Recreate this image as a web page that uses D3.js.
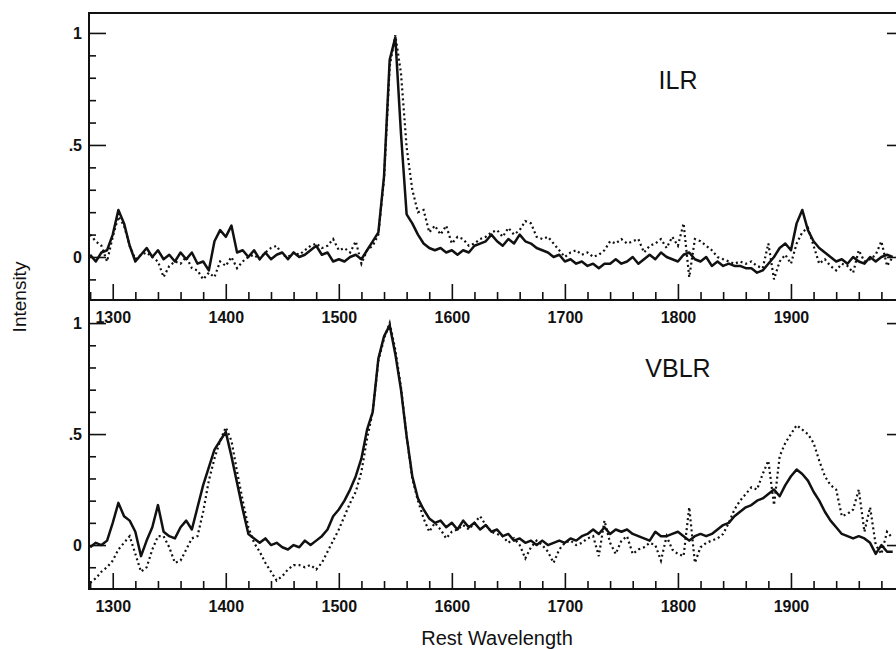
<!DOCTYPE html>
<html>
<head>
<meta charset="utf-8">
<script src="https://cdn.jsdelivr.net/npm/d3@7"></script>
<style>
  body { margin: 0; background: #fff; }
  svg { display: block; }
  text { font-family: "Liberation Sans", Arial, Helvetica, sans-serif; fill: #111; }
</style>
</head>
<body>
<script>
// wavelength grid (Angstrom), one value every 5 A from 1280 to 1990
var wave = d3.range(1280, 1991, 5);

// ILR panel, solid and dotted spectra
var ilrSolid = [
  0.01,-0.02,0.02,0.03,0.10,0.21,0.15,0.05,-0.02,0.01,
  0.04,0.00,0.03,-0.01,0.01,-0.02,0.02,-0.01,0.02,-0.03,
  -0.02,-0.06,0.07,0.12,0.09,0.14,0.02,0.03,0.00,0.03,
  -0.01,0.02,-0.01,0.01,0.02,-0.01,0.02,0.00,0.01,0.03,
  0.05,0.01,0.02,-0.02,-0.01,-0.02,0.00,0.01,-0.01,0.03,
  0.07,0.11,0.36,0.88,0.98,0.55,0.19,0.15,0.10,0.06,
  0.04,0.03,0.04,0.02,0.03,0.01,0.03,0.02,0.05,0.06,
  0.07,0.10,0.07,0.05,0.08,0.06,0.10,0.07,0.06,0.04,
  0.03,0.02,0.00,0.01,-0.02,-0.01,-0.03,-0.02,-0.04,-0.03,
  -0.05,-0.03,-0.03,-0.01,-0.03,-0.02,0.00,-0.03,-0.01,0.01,
  -0.01,0.02,0.00,-0.01,-0.02,0.01,0.02,-0.01,-0.02,0.00,
  -0.04,-0.02,-0.04,-0.03,-0.04,-0.04,-0.05,-0.05,-0.07,-0.06,
  -0.03,0.00,0.04,0.06,0.03,0.15,0.21,0.12,0.07,0.04,
  0.02,0.00,-0.02,-0.01,-0.03,0.00,-0.02,-0.03,0.00,-0.02,
  0.00,0.01,0.00
];
var ilrDotted = [
  0.10,0.07,0.05,-0.02,0.09,0.18,0.14,0.05,-0.01,0.01,
  0.02,0.00,-0.02,-0.09,-0.04,-0.02,-0.03,0.00,-0.05,-0.06,
  -0.10,-0.07,-0.09,-0.02,-0.04,0.00,-0.05,-0.02,0.00,0.01,
  -0.01,0.02,0.04,0.05,0.01,0.00,0.02,0.01,0.03,0.05,
  0.06,0.04,0.05,0.08,0.03,0.04,0.02,0.07,-0.03,0.03,
  0.05,0.10,0.35,0.85,0.99,0.82,0.49,0.30,0.20,0.21,
  0.11,0.14,0.10,0.14,0.06,0.09,0.08,0.05,0.06,0.08,
  0.09,0.11,0.12,0.09,0.13,0.10,0.12,0.16,0.15,0.09,
  0.08,0.09,0.06,0.03,0.00,0.02,0.03,0.01,0.02,0.00,
  0.01,0.03,0.07,0.06,0.08,0.06,0.07,0.08,0.02,0.05,
  0.06,0.08,0.04,0.09,0.05,0.15,-0.09,0.08,0.07,0.05,
  0.03,0.00,-0.01,-0.02,-0.03,-0.02,-0.03,-0.02,-0.04,-0.05,
  0.06,-0.10,-0.02,0.01,-0.03,0.06,0.11,0.13,0.05,-0.03,
  -0.01,-0.04,-0.06,-0.03,-0.04,-0.07,0.03,-0.02,-0.01,0.01,
  0.07,-0.04,0.00
];

// VBLR panel, solid and dotted spectra
var vblrSolid = [
  -0.01,0.01,0.00,0.02,0.10,0.19,0.13,0.11,0.06,-0.05,
  0.02,0.08,0.18,0.06,0.04,0.03,0.08,0.11,0.07,0.17,
  0.27,0.35,0.43,0.47,0.51,0.40,0.28,0.16,0.05,0.03,
  0.01,0.03,0.00,0.01,-0.01,-0.02,0.00,-0.01,0.02,0.00,
  0.02,0.04,0.07,0.13,0.16,0.20,0.25,0.31,0.39,0.52,
  0.60,0.84,0.94,0.99,0.86,0.70,0.49,0.31,0.21,0.16,
  0.12,0.10,0.11,0.08,0.10,0.07,0.11,0.08,0.10,0.07,
  0.09,0.06,0.07,0.04,0.05,0.02,0.03,0.01,0.02,0.00,
  0.02,0.00,0.01,0.02,0.01,0.03,0.02,0.04,0.05,0.07,
  0.05,0.08,0.05,0.07,0.06,0.07,0.05,0.04,0.03,0.02,
  0.06,0.04,0.04,0.05,0.06,0.04,0.02,0.04,0.05,0.04,
  0.05,0.07,0.09,0.10,0.13,0.15,0.17,0.18,0.20,0.21,
  0.23,0.25,0.22,0.27,0.31,0.34,0.32,0.29,0.24,0.20,
  0.15,0.11,0.08,0.05,0.04,0.03,0.04,0.03,0.01,-0.04,
  0.00,-0.03,-0.03
];
var vblrDotted = [
  -0.17,-0.15,-0.12,-0.10,-0.07,-0.02,0.01,0.04,-0.04,-0.12,
  -0.10,-0.02,0.04,0.04,-0.01,-0.08,-0.07,-0.02,0.03,0.04,
  0.15,0.29,0.39,0.47,0.53,0.47,0.33,0.20,0.08,0.01,
  -0.03,-0.08,-0.12,-0.16,-0.14,-0.11,-0.09,-0.09,-0.10,-0.09,
  -0.11,-0.08,-0.03,0.02,0.07,0.13,0.19,0.24,0.33,0.48,
  0.60,0.83,0.93,1.00,0.88,0.71,0.49,0.30,0.20,0.12,
  0.06,0.10,0.07,0.03,0.06,0.07,0.09,0.07,0.10,0.13,
  0.09,0.06,0.05,0.04,0.01,0.03,0.00,-0.06,-0.01,0.02,
  0.00,-0.03,-0.08,-0.02,0.01,0.02,0.00,0.01,0.03,0.04,
  -0.05,0.11,0.01,-0.04,0.02,0.04,-0.04,-0.02,-0.01,0.01,
  0.00,-0.07,0.04,-0.02,-0.04,-0.05,0.17,-0.08,-0.01,0.01,
  0.02,0.03,0.05,0.10,0.16,0.20,0.23,0.26,0.25,0.32,
  0.38,0.18,0.40,0.46,0.50,0.54,0.52,0.50,0.46,0.38,
  0.31,0.27,0.25,0.13,0.14,0.16,0.25,0.06,0.17,0.00,
  -0.04,0.06,0.03
];

var panelNames = ["ILR", "VBLR"];
var xMajor = [1300, 1400, 1500, 1600, 1700, 1800, 1900];
var yMajor = [0, 0.5, 1];
var yLabels = ["0", ".5", "1"];

var W = 896, H = 649;
var left = 89, right = 904;

var svg = d3.select("body").append("svg")
    .attr("width", W)
    .attr("height", H);

var x = d3.scaleLinear().domain([1279, 2000]).range([left, right]);

// two stacked panels
var panels = [
  {name: panelNames[0], top: 13, bottom: 300, y: d3.scaleLinear().domain([-0.192, 1.089]).range([300, 13]),
   solid: ilrSolid, dotted: ilrDotted, labelY: 89},
  {name: panelNames[1], top: 300, bottom: 589, y: d3.scaleLinear().domain([-0.198, 1.104]).range([589, 300]),
   solid: vblrSolid, dotted: vblrDotted, labelY: 377}
];

var xMinor = d3.range(1280, 2000, 20).filter(function(d){ return d % 100 !== 0; });
var yMinor = [-0.1, 0.1, 0.2, 0.3, 0.4, 0.6, 0.7, 0.8, 0.9];

panels.forEach(function(p, i) {
  var clipId = "clip" + i;
  svg.append("clipPath").attr("id", clipId)
    .append("rect")
    .attr("x", left).attr("y", p.top)
    .attr("width", right - left).attr("height", p.bottom - p.top);

  var line = d3.line()
    .x(function(d, j){ return x(wave[j]); })
    .y(function(d){ return p.y(d); });

  var g = svg.append("g").attr("clip-path", "url(#" + clipId + ")");

  g.append("path")
    .datum(p.dotted)
    .attr("d", line)
    .attr("fill", "none")
    .attr("stroke", "#111")
    .attr("stroke-width", 2.2)
    .attr("stroke-dasharray", "2,3");

  g.append("path")
    .datum(p.solid)
    .attr("d", line)
    .attr("fill", "none")
    .attr("stroke", "#111")
    .attr("stroke-width", 2.5)
    .attr("stroke-linejoin", "round");

  // left axis: major (labelled) and minor ticks, pointing inwards
  svg.append("g")
    .attr("class", "axis")
    .attr("transform", "translate(" + left + ",0)")
    .call(d3.axisLeft(p.y).tickValues(yMajor).tickSize(-17).tickPadding(7)
      .tickFormat(function(d, k){ return yLabels[k]; }));
  svg.append("g")
    .attr("class", "axis")
    .attr("transform", "translate(" + left + ",0)")
    .call(d3.axisLeft(p.y).tickValues(yMinor).tickSize(-7).tickFormat(""));

  // right axis mirrors the left
  svg.append("g")
    .attr("class", "axis")
    .attr("transform", "translate(" + right + ",0)")
    .call(d3.axisRight(p.y).tickValues(yMajor).tickSize(-17).tickFormat(""));
  svg.append("g")
    .attr("class", "axis")
    .attr("transform", "translate(" + right + ",0)")
    .call(d3.axisRight(p.y).tickValues(yMinor).tickSize(-7).tickFormat(""));

  // bottom axis of each panel, ticks pointing up, labels below
  svg.append("g")
    .attr("class", "axis")
    .attr("transform", "translate(0," + p.bottom + ")")
    .call(d3.axisBottom(x).tickValues(xMajor).tickSize(-16).tickPadding(12).tickFormat(d3.format("d")));
  svg.append("g")
    .attr("class", "axis")
    .attr("transform", "translate(0," + p.bottom + ")")
    .call(d3.axisBottom(x).tickValues(xMinor).tickSize(-8).tickFormat(""));

  svg.append("text")
    .attr("x", 678)
    .attr("y", p.labelY)
    .attr("text-anchor", "middle")
    .style("font-size", "25px")
    .text(p.name);
});

svg.selectAll(".axis .domain").remove();
svg.selectAll(".axis line").attr("stroke", "#111").attr("stroke-width", 1.6);
svg.selectAll(".axis text")
  .style("font-size", "16px")
  .style("font-weight", "bold")
  .style("font-family", "'Liberation Sans', Arial, sans-serif")
  .attr("fill", "#111");

// frame
var frame = svg.append("g").attr("stroke", "#111").attr("stroke-width", 2).attr("fill", "none");
frame.append("rect").attr("x", left).attr("y", 13).attr("width", right - left).attr("height", 589 - 13);
frame.append("line").attr("x1", left).attr("x2", right).attr("y1", 300).attr("y2", 300);

// axis titles
svg.append("text")
  .attr("x", 497)
  .attr("y", 645)
  .attr("text-anchor", "middle")
  .style("font-size", "20px")
  .text("Rest Wavelength");

svg.append("text")
  .attr("transform", "translate(26,297) rotate(-90)")
  .attr("text-anchor", "middle")
  .style("font-size", "19px")
  .text("Intensity");
</script>
</body>
</html>
